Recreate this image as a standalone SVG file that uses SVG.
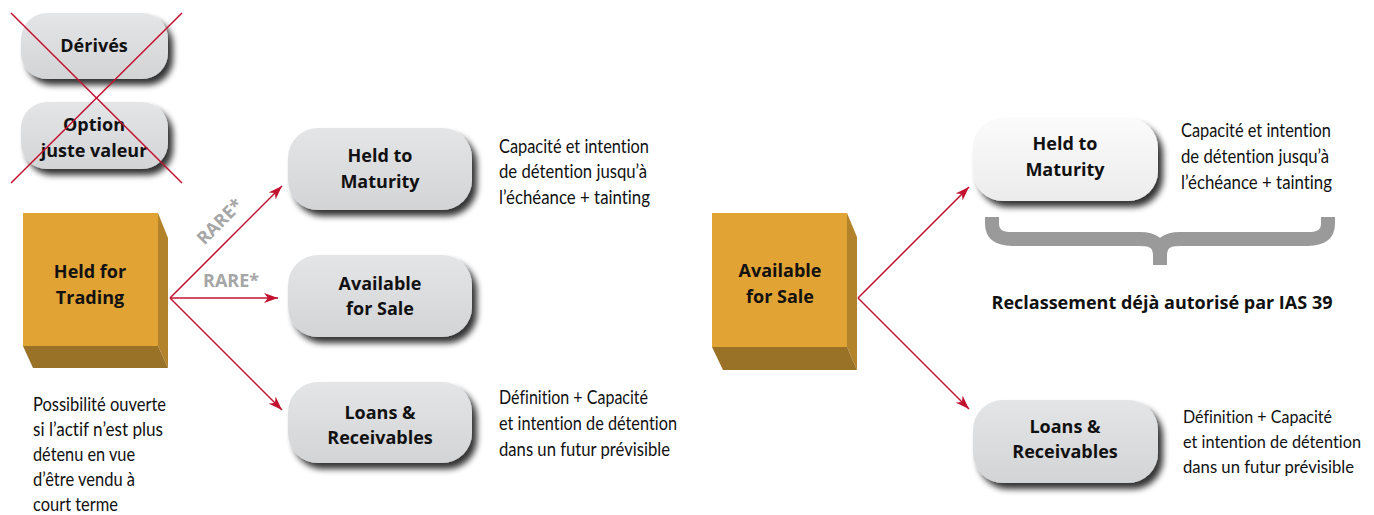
<svg xmlns="http://www.w3.org/2000/svg" width="1374" height="515" viewBox="0 0 1374 515">
<style>
.lbl{font-family:"Open Sans","Liberation Sans",sans-serif;font-weight:bold;font-size:18px;fill:#111;text-anchor:middle}
.desc{font-family:Lato,"Liberation Sans",sans-serif;font-size:18.5px;fill:#111;font-variant-ligatures:none}
.desc2{font-family:Lato,"Liberation Sans",sans-serif;font-size:17px;fill:#111;font-variant-ligatures:none}
.rare{font-family:"Open Sans","Liberation Sans",sans-serif;font-weight:bold;font-size:18px;fill:#a6a6a6}
.conn{stroke:#c2122f;stroke-width:1.5;fill:none;marker-end:url(#ah)}
.cross{stroke:#c2122f;stroke-width:1.5}
.front{fill:#e1a333}
.side{fill:#b3832b}
.bottom{fill:#997127}
</style>
<defs>
<linearGradient id="gbox" x1="0" y1="0" x2="0" y2="1">
<stop offset="0" stop-color="#e4e5e7"/>
<stop offset="1" stop-color="#d3d4d6"/>
</linearGradient>
<linearGradient id="gwhite" x1="0" y1="0" x2="0" y2="1">
<stop offset="0" stop-color="#fbfbfb"/>
<stop offset="1" stop-color="#ececec"/>
</linearGradient>
<filter id="sh" x="-20%" y="-30%" width="150%" height="170%">
<feGaussianBlur in="SourceAlpha" stdDeviation="3"/>
<feOffset dx="5" dy="6" result="b"/>
<feComponentTransfer><feFuncA type="linear" slope="0.8"/></feComponentTransfer>
<feMerge><feMergeNode/><feMergeNode in="SourceGraphic"/></feMerge>
</filter>
<marker id="ah" viewBox="0 0 14 10" refX="14" refY="5" markerWidth="14" markerHeight="10" markerUnits="userSpaceOnUse" orient="auto">
<path d="M0,0 L14,5 L0,10 L4,5 z" fill="#c2122f"/>
</marker>
</defs>

<g id="derives">
<rect x="21" y="13" width="147" height="66" rx="26" fill="url(#gbox)" filter="url(#sh)"/>
<text class="lbl" x="94" y="52">Dérivés</text>
</g>
<g id="option-juste-valeur">
<rect x="21" y="102" width="147" height="67" rx="26" fill="url(#gbox)" filter="url(#sh)"/>
<text class="lbl" x="94" y="131">Option</text>
<text class="lbl" x="94" y="157">juste valeur</text>
</g>
<g id="cross">
<line class="cross" x1="11" y1="13" x2="182" y2="183"/>
<line class="cross" x1="182" y1="13" x2="11" y2="183"/>
</g>

<g id="held-for-trading">
<polygon class="front" points="23,213 158,213 158,346 23,346"/>
<polygon class="side" points="158,213 168,238 168,368 158,346"/>
<polygon class="bottom" points="23,346 158,346 168,368 33,368"/>
<text class="lbl" x="90" y="278">Held for</text>
<text class="lbl" x="90" y="304">Trading</text>
</g>
<g id="htf-note">
<text class="desc" x="33" y="411" textLength="133" lengthAdjust="spacingAndGlyphs">Possibilité ouverte</text>
<text class="desc" x="33" y="436" textLength="130" lengthAdjust="spacingAndGlyphs">si l’actif n’est plus</text>
<text class="desc" x="33" y="461" textLength="102" lengthAdjust="spacingAndGlyphs">détenu en vue</text>
<text class="desc" x="33" y="486" textLength="102" lengthAdjust="spacingAndGlyphs">d’être vendu à</text>
<text class="desc" x="33" y="511" textLength="85" lengthAdjust="spacingAndGlyphs">court terme</text>
</g>

<g id="htm-left">
<rect x="288" y="128" width="184" height="82" rx="30" fill="url(#gbox)" filter="url(#sh)"/>
<text class="lbl" x="380" y="162">Held to</text>
<text class="lbl" x="380" y="188">Maturity</text>
</g>
<g id="htm-left-note">
<text class="desc" x="499" y="153" textLength="150" lengthAdjust="spacingAndGlyphs">Capacité et intention</text>
<text class="desc" x="499" y="178" textLength="148" lengthAdjust="spacingAndGlyphs">de détention jusqu’à</text>
<text class="desc" x="499" y="204" textLength="151" lengthAdjust="spacingAndGlyphs">l’échéance + tainting</text>
</g>
<g id="afs-left">
<rect x="288" y="255" width="184" height="82" rx="30" fill="url(#gbox)" filter="url(#sh)"/>
<text class="lbl" x="380" y="290">Available</text>
<text class="lbl" x="380" y="315">for Sale</text>
</g>
<g id="lr-left">
<rect x="288" y="382" width="184" height="81" rx="30" fill="url(#gbox)" filter="url(#sh)"/>
<text class="lbl" x="380" y="419">Loans &amp;</text>
<text class="lbl" x="380" y="444">Receivables</text>
</g>
<g id="lr-left-note">
<text class="desc" x="499" y="404" textLength="149" lengthAdjust="spacingAndGlyphs">Définition + Capacité</text>
<text class="desc" x="499" y="430" textLength="178" lengthAdjust="spacingAndGlyphs">et intention de détention</text>
<text class="desc" x="499" y="456" textLength="171" lengthAdjust="spacingAndGlyphs">dans un futur prévisible</text>
</g>

<g id="afs-cube">
<polygon class="front" points="712,213 847,213 847,347 712,347"/>
<polygon class="side" points="847,213 857,237 857,370 847,347"/>
<polygon class="bottom" points="712,347 847,347 857,370 723,370"/>
<text class="lbl" x="780" y="277">Available</text>
<text class="lbl" x="780" y="303">for Sale</text>
</g>

<g id="htm-right">
<rect x="973" y="118" width="185" height="83" rx="30" fill="url(#gwhite)" filter="url(#sh)"/>
<text class="lbl" x="1065" y="150">Held to</text>
<text class="lbl" x="1065" y="176">Maturity</text>
</g>
<g id="htm-right-note">
<text class="desc" x="1181" y="137" textLength="150" lengthAdjust="spacingAndGlyphs">Capacité et intention</text>
<text class="desc" x="1181" y="163" textLength="148" lengthAdjust="spacingAndGlyphs">de détention jusqu’à</text>
<text class="desc" x="1181" y="189" textLength="151" lengthAdjust="spacingAndGlyphs">l’échéance + tainting</text>
</g>
<g id="brace">
<path d="M992,217 L992,224 Q992,239 1012,239 L1140,239 Q1160,239 1160,254 L1160,265 M1160,254 Q1160,239 1180,239 L1308,239 Q1328,239 1328,224 L1328,217" fill="none" stroke="#9a9a9a" stroke-width="14"/>
<text x="1162" y="309" font-family="'Open Sans','Liberation Sans',sans-serif" font-weight="bold" font-size="17" fill="#111" text-anchor="middle" textLength="341" lengthAdjust="spacingAndGlyphs">Reclassement déjà autorisé par IAS 39</text>
</g>
<g id="lr-right">
<rect x="973" y="400" width="185" height="83" rx="30" fill="url(#gbox)" filter="url(#sh)"/>
<text class="lbl" x="1065" y="433">Loans &amp;</text>
<text class="lbl" x="1065" y="458">Receivables</text>
</g>
<g id="lr-right-note">
<text class="desc2" x="1183" y="423" textLength="149" lengthAdjust="spacingAndGlyphs">Définition + Capacité</text>
<text class="desc2" x="1183" y="448" textLength="178" lengthAdjust="spacingAndGlyphs">et intention de détention</text>
<text class="desc2" x="1183" y="473" textLength="171" lengthAdjust="spacingAndGlyphs">dans un futur prévisible</text>
</g>

<g id="connectors">
<line class="conn" x1="170" y1="298" x2="282" y2="186"/>
<line class="conn" x1="170" y1="298" x2="278" y2="298"/>
<line class="conn" x1="170" y1="298" x2="282" y2="410"/>
<line class="conn" x1="858" y1="298" x2="969" y2="187"/>
<line class="conn" x1="858" y1="298" x2="969" y2="409"/>
<text class="rare" x="0" y="0" text-anchor="middle" transform="translate(224,226) rotate(-45)">RARE*</text>
<text class="rare" x="203" y="287">RARE*</text>
</g>
</svg>
